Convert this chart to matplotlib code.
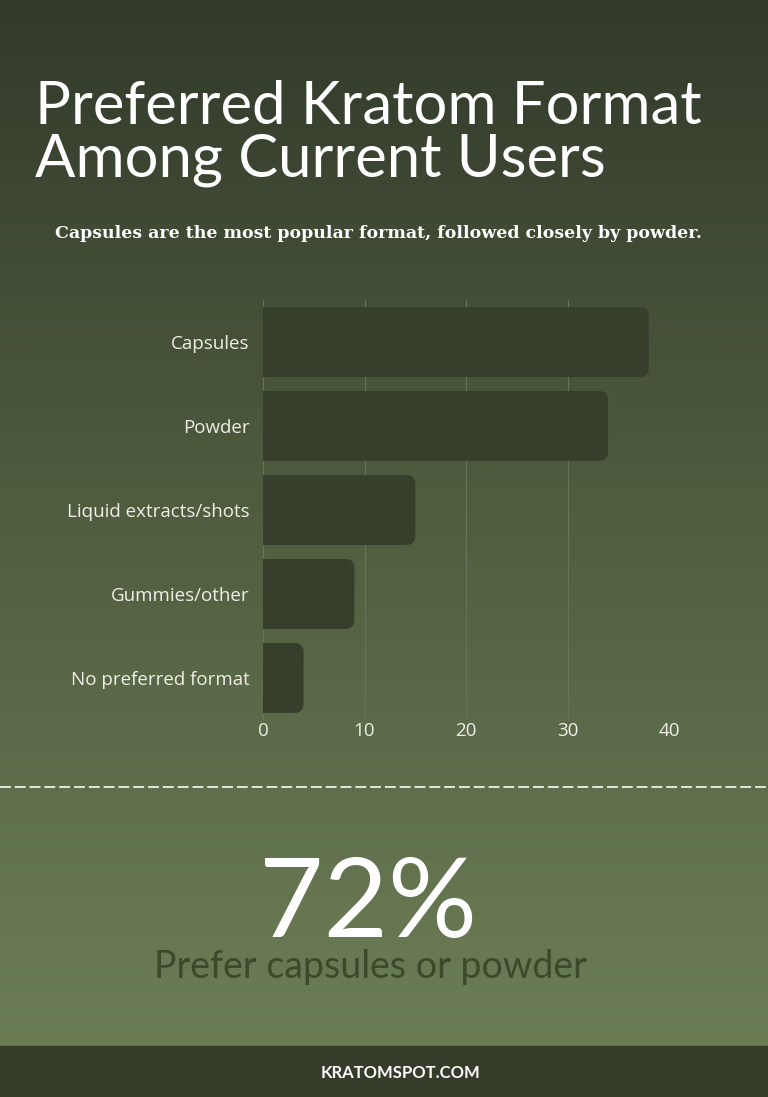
import numpy as np
import matplotlib
matplotlib.use("Agg")
import matplotlib.pyplot as plt
from matplotlib.patches import FancyBboxPatch, Rectangle
from matplotlib.colors import LinearSegmentedColormap

categories = ["Capsules", "Powder", "Liquid extracts/shots", "Gummies/other", "No preferred format"]
values = [38, 34, 15, 9, 4]
xticks = [0, 10, 20, 30, 40]
title_lines = ["Preferred Kratom Format", "Among Current Users"]
subtitle = "Capsules are the most popular format, followed closely by powder."
big_stat = "72%"
stat_label = "Prefer capsules or powder"
footer = "KRATOMSPOT.COM"

W, H = 768, 1097
fig = plt.figure(figsize=(W / 100, H / 100), dpi=100)

# background gradient
bg = fig.add_axes([0, 0, 1, 1], zorder=0)
cmap = LinearSegmentedColormap.from_list(
    "g", [(0.0, "#323a2b"), (0.45, "#4f5c3e"), (0.72, "#5f6f4c"), (1.0, "#6e8058")])
grad = np.linspace(0, 1, 512).reshape(-1, 1)
bg.imshow(grad, aspect="auto", cmap=cmap, extent=[0, 1, 0, 1], origin="upper")
bg.set_xlim(0, 1)
bg.set_ylim(0, 1)
bg.axis("off")
bg.add_patch(Rectangle((0, 0), 1, (H - 1046) / H, color="#353c2a", zorder=2))
ydash = 1 - 787 / H
bg.plot([0, 1], [ydash, ydash], color="#f0f0e8", lw=1.3, ls=(0, (6, 2.2)), zorder=3)

font = "Lato"
lab_font = "Open Sans"
for i, (line, yb) in enumerate(zip(title_lines, [124, 176])):
    fig.text(35 / W, 1 - yb / H, line, ha="left", va="baseline", color="white",
             fontsize=43, family=font)
fig.text(378 / W, 1 - 238 / H, subtitle, ha="center", va="baseline", color="white",
         fontsize=12.5, family="DejaVu Serif", fontweight="bold")

left = 263 / W
right = 669 / W
ax = fig.add_axes([left, 1 - 720 / H, right - left, 420 / H], zorder=1)
ax.patch.set_alpha(0)
n = len(categories)
ypos = np.arange(n)
ax.set_xlim(0, 40)
ax.set_ylim(n - 0.5, -0.5)
bh = 0.833
bars = ax.barh(ypos, values, height=bh, color="none")
px_per_x = (669 - 263) / 40.0
px_per_y = 84.0
r_px = 9
rx = r_px / px_per_x
ry = r_px / px_per_y
for b in bars:
    x0, y0 = b.get_x(), b.get_y()
    w, h = b.get_width(), b.get_height()
    p = FancyBboxPatch((x0 - 2 * rx, y0), w + 2 * rx, h,
                       boxstyle=f"round,pad=0,rounding_size={rx}",
                       mutation_aspect=ry / rx, facecolor="#363e2c",
                       edgecolor="none", zorder=3)
    ax.add_patch(p)
ax.set_xticks(xticks)
ax.set_xticklabels([str(t) for t in xticks])
ax.set_yticks(ypos)
ax.set_yticklabels(categories)
ax.grid(axis="x", color="#66755a", lw=0.8, zorder=0)
ax.set_axisbelow(True)
for s in ax.spines.values():
    s.set_visible(False)
ax.tick_params(axis="x", length=0, labelsize=13.5, pad=1.5)
ax.tick_params(axis="y", length=0, labelsize=13.5, pad=9.5)
for lab in ax.get_xticklabels() + ax.get_yticklabels():
    lab.set_family(lab_font)
    lab.set_color("#eeeee6")

fig.text(368 / W, 1 - 937 / H, big_stat, ha="center", va="baseline", color="white",
         fontsize=80, family=font)
fig.text(370 / W, 1 - 978 / H, stat_label, ha="center", va="baseline", color="#3b4a2b",
         fontsize=27, family=font)
fig.text(400 / W, 1 - 1078 / H, footer, ha="center", va="baseline", color="white",
         fontsize=12, family=font, fontweight="bold")

fig.savefig("out.png", dpi=100)
